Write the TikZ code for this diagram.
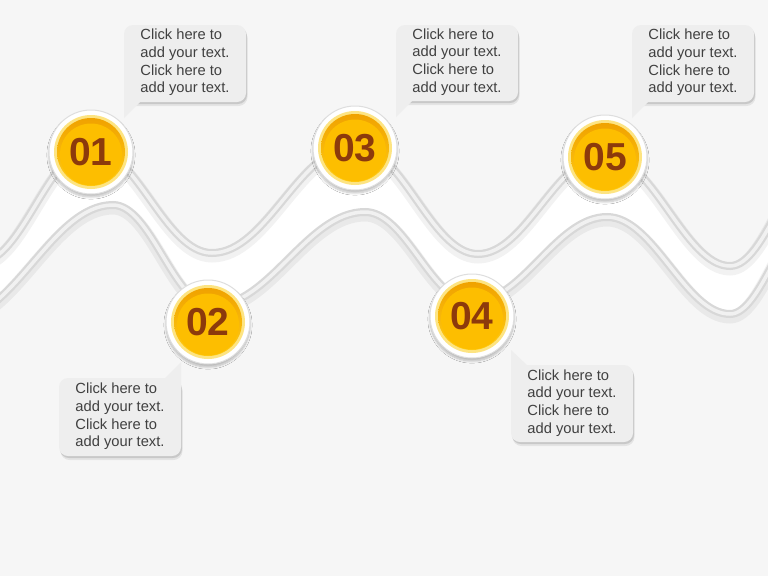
\documentclass[tikz,border=0pt]{standalone}
\usepackage{fontspec}
\setmainfont{Liberation Sans}
\usetikzlibrary{shadows.blur}
\definecolor{bg}{RGB}{246,246,246}
\definecolor{tubeout}{RGB}{216,216,216}
\definecolor{tubein}{RGB}{241,241,241}
\definecolor{boxfill}{RGB}{238,238,238}
\definecolor{txtgray}{RGB}{64,64,64}
\definecolor{numbrown}{RGB}{140,58,12}
\definecolor{ringyellow}{RGB}{253,228,130}
\definecolor{goldtop}{RGB}{240,162,0}
\definecolor{goldmid}{RGB}{253,190,0}
\definecolor{goldbot}{RGB}{255,204,20}
\definecolor{ringgray}{RGB}{222,222,222}
\tikzset{
  tube/.style={line width=8pt, draw=tubeout, line cap=round},
  tubecore/.style={line width=3.5pt, draw=tubein, line cap=round},
  tubeshadow/.style={line width=13pt, draw=black, opacity=0.05},
  calloutbody/.style={fill=boxfill, rounded corners=9pt,
    preaction={fill=black, fill opacity=0.07, transform canvas={xshift=1.5pt, yshift=-4pt}},
    preaction={fill=black, fill opacity=0.12, transform canvas={xshift=1pt, yshift=-2pt}}},
  callouttext/.style={align=left, text=txtgray, inner sep=0pt,
    font=\fontsize{14.7}{17.7}\selectfont},
  tail/.style={fill=boxfill},
  numcirc/.style={circle, minimum size=84pt, inner sep=0pt, fill=white, draw=ringgray, line width=1pt,
    blur shadow={shadow xshift=0pt, shadow yshift=-3pt, shadow opacity=25, shadow blur steps=8},
    text=numbrown, font=\bfseries\fontsize{39}{39}\selectfont,
    path picture={
      \fill[ringyellow] (path picture bounding box.center) circle (37pt);
      \shade[top color=goldtop, middle color=goldmid, bottom color=goldbot] (path picture bounding box.center) circle (34pt);
      \fill[goldmid] ([yshift=-2.5pt]path picture bounding box.center) circle (31pt);
    }},
}
\newcommand{\upperwave}{(-20,262) .. controls (22,262) and (49,148) .. (91,148)
  .. controls (136,148) and (165,253) .. (212,253)
  .. controls (267,253) and (300,146) .. (355,146)
  .. controls (402,146) and (431,254) .. (478,254)
  .. controls (526,254) and (557,155) .. (605,155)
  .. controls (652,155) and (685,266) .. (730,266)
  .. controls (767,266) and (791,150) .. (830,150)}
\newcommand{\lowerwave}{(-47,320) .. controls (14,320) and (52,205) .. (113,205)
  .. controls (151,205) and (174,306) .. (212,306)
  .. controls (270,306) and (307,212) .. (365,212)
  .. controls (406,212) and (431,302) .. (472,302)
  .. controls (523,302) and (556,217) .. (607,217)
  .. controls (654,217) and (685,314) .. (730,314)
  .. controls (762,314) and (783,215) .. (815,215)}
\newcommand{\lowerwaverev}{(815,215) .. controls (783,215) and (762,314) .. (730,314)
  .. controls (685,314) and (654,217) .. (607,217)
  .. controls (556,217) and (523,302) .. (472,302)
  .. controls (431,302) and (406,212) .. (365,212)
  .. controls (307,212) and (270,306) .. (212,306)
  .. controls (174,306) and (151,205) .. (113,205)
  .. controls (52,205) and (14,320) .. (-47,320)}
\begin{document}
\begin{tikzpicture}[x=1pt, y=-1pt]
\fill[bg] (0,0) rectangle (768,576);
\useasboundingbox (0,0) rectangle (768,576);
\begin{scope}
\clip (0,0) rectangle (768,576);
% white band between the waves
\fill[white] \upperwave -- \lowerwaverev -- cycle;
% tube shadows
\draw[tubeshadow, yshift=-3pt] \upperwave;
\draw[tubeshadow, yshift=-3pt] \lowerwave;
% tubes
\draw[tube] \upperwave;
\draw[tube] \lowerwave;
\draw[tubecore] \upperwave;
\draw[tubecore] \lowerwave;
\end{scope}
% number circles
\node[numcirc] (n1) at (91,152) {01};
\node[numcirc] (n2) at (208,322) {02};
\node[numcirc] (n3) at (355,148) {03};
\node[numcirc] (n4) at (472,316) {04};
\node[numcirc] (n5) at (605,157) {05};
% callout bodies and tails
\fill[calloutbody] (124,25) -- (246,25) -- (246,102) -- (124,102) -- cycle;
\fill[tail] (124,90) -- (124,118) -- (140,102) -- (140,90) -- cycle;
\fill[calloutbody] (396,25) -- (518,25) -- (518,101) -- (396,101) -- cycle;
\fill[tail] (396,89) -- (396,117) -- (412,101) -- (412,89) -- cycle;
\fill[calloutbody] (632,25) -- (754,25) -- (754,102) -- (632,102) -- cycle;
\fill[tail] (632,90) -- (632,118) -- (648,102) -- (648,90) -- cycle;
\fill[calloutbody] (59,378) -- (181,378) -- (181,456) -- (59,456) -- cycle;
\fill[tail] (181,390) -- (181,362) -- (165,378) -- (165,390) -- cycle;
\fill[calloutbody] (511,365) -- (633,365) -- (633,442) -- (511,442) -- cycle;
\fill[tail] (511,377) -- (511,350) -- (527,365) -- (527,377) -- cycle;
% callout texts
\node[callouttext] (t1) at (185,62.5) {Click here to\\add your text.\\Click here to\\add your text.};
\node[callouttext] (t3) at (457,62) {Click here to\\add your text.\\Click here to\\add your text.};
\node[callouttext] (t5) at (693,62.5) {Click here to\\add your text.\\Click here to\\add your text.};
\node[callouttext] (t2) at (120,416.5) {Click here to\\add your text.\\Click here to\\add your text.};
\node[callouttext] (t4) at (572,403) {Click here to\\add your text.\\Click here to\\add your text.};
\end{tikzpicture}
\end{document}
